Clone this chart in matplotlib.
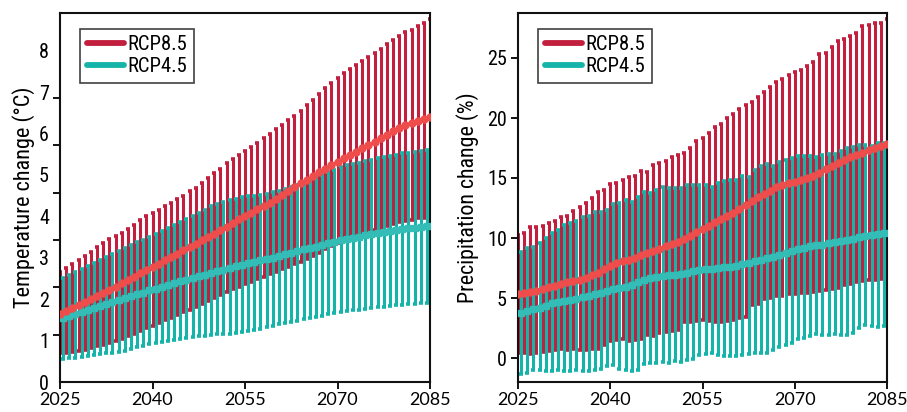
import numpy as np
import matplotlib
matplotlib.use("Agg")
import matplotlib.pyplot as plt
from matplotlib import font_manager as fm
from matplotlib.lines import Line2D

# ---------------- data ----------------
years = list(range(2025, 2086))
xticks = [2025, 2040, 2055, 2070, 2085]
series_names = ["RCP8.5", "RCP4.5"]

temp85_high = [2.66, 2.75, 2.85, 2.95, 3.05, 3.15, 3.25, 3.35, 3.45, 3.52,
               3.60, 3.70, 3.80, 3.90, 4.00, 4.08, 4.15, 4.25, 4.33, 4.42,
               4.50, 4.60, 4.68, 4.80, 4.92, 5.05, 5.15, 5.28, 5.38, 5.48,
               5.58, 5.68, 5.78, 5.88, 5.98, 6.10, 6.20, 6.32, 6.42, 6.55,
               6.68, 6.82, 6.95, 7.10, 7.22, 7.35, 7.45, 7.55, 7.65, 7.75,
               7.85, 7.95, 8.05, 8.15, 8.25, 8.35, 8.45, 8.50, 8.60, 8.68, 8.76]
temp85_mean = [1.65, 1.72, 1.79, 1.86, 1.93, 2.00, 2.08, 2.16, 2.23, 2.30,
               2.38, 2.46, 2.54, 2.62, 2.70, 2.78, 2.86, 2.94, 3.02, 3.10,
               3.18, 3.26, 3.34, 3.42, 3.50, 3.58, 3.66, 3.75, 3.84, 3.93,
               4.01, 4.09, 4.17, 4.25, 4.33, 4.42, 4.52, 4.62, 4.72, 4.80,
               4.88, 4.97, 5.06, 5.15, 5.24, 5.32, 5.40, 5.48, 5.56, 5.64,
               5.72, 5.80, 5.88, 5.96, 6.05, 6.13, 6.20, 6.26, 6.31, 6.35, 6.39]
temp85_low = [0.69, 0.70, 0.72, 0.75, 0.78, 0.82, 0.86, 0.90, 0.95, 1.00,
              1.05, 1.11, 1.17, 1.23, 1.30, 1.36, 1.42, 1.49, 1.55, 1.62,
              1.68, 1.75, 1.82, 1.89, 1.96, 2.03, 2.10, 2.17, 2.24, 2.30,
              2.36, 2.42, 2.48, 2.54, 2.60, 2.66, 2.72, 2.78, 2.84, 2.90,
              2.96, 3.04, 3.12, 3.20, 3.28, 3.35, 3.40, 3.45, 3.50, 3.56,
              3.61, 3.66, 3.71, 3.76, 3.81, 3.86, 3.89, 3.92, 3.95, 3.97, 3.99]
temp45_high = [2.50, 2.58, 2.66, 2.74, 2.81, 2.88, 2.95, 3.02, 3.09, 3.16,
               3.23, 3.30, 3.37, 3.44, 3.51, 3.58, 3.65, 3.72, 3.79, 3.86,
               3.93, 4.00, 4.08, 4.16, 4.24, 4.30, 4.35, 4.39, 4.43, 4.46,
               4.48, 4.50, 4.52, 4.55, 4.58, 4.62, 4.66, 4.70, 4.75, 4.80,
               4.85, 4.92, 4.99, 5.06, 5.13, 5.19, 5.23, 5.27, 5.30, 5.34,
               5.37, 5.40, 5.43, 5.46, 5.49, 5.52, 5.54, 5.56, 5.58, 5.59, 5.60]
temp45_mean = [1.54, 1.59, 1.64, 1.69, 1.74, 1.79, 1.84, 1.89, 1.93, 1.98,
               2.02, 2.07, 2.12, 2.16, 2.21, 2.25, 2.30, 2.34, 2.39, 2.43,
               2.47, 2.51, 2.55, 2.59, 2.63, 2.67, 2.71, 2.75, 2.79, 2.83,
               2.87, 2.90, 2.94, 2.97, 3.00, 3.04, 3.08, 3.12, 3.16, 3.20,
               3.23, 3.27, 3.31, 3.35, 3.39, 3.42, 3.45, 3.48, 3.51, 3.54,
               3.57, 3.60, 3.62, 3.65, 3.67, 3.69, 3.71, 3.73, 3.74, 3.76, 3.77]
temp45_low = [0.55, 0.57, 0.59, 0.61, 0.63, 0.65, 0.67, 0.69, 0.71, 0.73,
              0.76, 0.80, 0.84, 0.88, 0.92, 0.95, 0.97, 1.00, 1.02, 1.04,
              1.06, 1.08, 1.10, 1.12, 1.14, 1.15, 1.16, 1.17, 1.18, 1.20,
              1.22, 1.25, 1.29, 1.33, 1.36, 1.39, 1.42, 1.45, 1.48, 1.51,
              1.54, 1.57, 1.60, 1.63, 1.66, 1.69, 1.71, 1.73, 1.75, 1.77,
              1.79, 1.81, 1.82, 1.84, 1.85, 1.87, 1.88, 1.89, 1.90, 1.90, 1.90]

prec85_high = [10.25, 10.44, 10.89, 10.94, 11.03, 11.22, 11.44, 11.78, 11.83, 12.28,
               12.61, 12.94, 13.36, 13.86, 14.00, 14.50, 14.61, 14.83, 15.11, 15.17,
               15.58, 15.53, 16.08, 16.28, 16.42, 16.78, 16.92, 17.06, 17.53, 18.08,
               18.31, 18.72, 19.28, 19.50, 19.97, 20.33, 20.72, 21.08, 21.36, 21.78,
               22.19, 22.61, 23.03, 23.25, 23.58, 23.81, 24.00, 24.33, 24.64, 25.31,
               25.44, 25.94, 26.44, 26.56, 26.83, 27.11, 27.67, 27.75, 27.89, 27.94, 28.28]
prec85_mean = [5.30, 5.40, 5.50, 5.60, 5.75, 5.90, 6.00, 6.15, 6.30, 6.40,
               6.50, 6.70, 6.90, 7.10, 7.40, 7.70, 7.95, 8.10, 8.20, 8.35,
               8.55, 8.75, 8.95, 9.10, 9.30, 9.50, 9.70, 9.95, 10.20, 10.50,
               10.75, 11.00, 11.30, 11.55, 11.85, 12.10, 12.40, 12.75, 13.05, 13.40,
               13.70, 13.95, 14.25, 14.45, 14.60, 14.70, 14.80, 15.00, 15.20, 15.45,
               15.75, 16.00, 16.25, 16.50, 16.75, 16.95, 17.10, 17.30, 17.50, 17.65, 17.85]
prec85_low = [0.39, 0.44, 0.33, 0.44, 0.53, 0.61, 0.67, 0.72, 0.67, 0.72,
              0.67, 0.67, 0.72, 0.72, 1.08, 1.44, 1.50, 1.56, 1.44, 1.50,
              1.56, 1.92, 1.83, 2.11, 2.19, 2.28, 2.33, 3.03, 3.03, 3.11,
              3.17, 3.10, 3.00, 3.00, 3.10, 3.20, 3.30, 3.40, 4.40, 4.50,
              4.90, 5.00, 5.20, 5.20, 5.30, 5.35, 5.40, 5.40, 5.50, 5.60,
              5.70, 5.75, 5.80, 6.10, 6.20, 6.30, 6.40, 6.50, 6.50, 6.60, 7.20]
prec45_high = [8.86, 9.14, 9.22, 9.61, 9.97, 10.39, 10.67, 11.08, 11.22, 11.44,
               11.78, 11.83, 12.19, 12.14, 12.33, 12.83, 12.89, 13.17, 13.03, 13.44,
               13.86, 13.78, 14.00, 14.28, 14.14, 14.14, 14.19, 14.42, 14.42, 14.42,
               14.42, 14.28, 14.61, 14.78, 14.83, 14.83, 15.19, 15.11, 15.67, 16.00,
               16.14, 16.03, 16.36, 16.50, 16.64, 16.86, 16.86, 16.83, 16.78, 16.92,
               17.00, 17.00, 17.28, 17.53, 17.61, 17.75, 17.75, 17.67, 17.94, 17.89, 17.90]
prec45_mean = [3.75, 3.90, 4.05, 4.20, 4.35, 4.55, 4.65, 4.75, 4.85, 4.95,
               5.05, 5.15, 5.30, 5.45, 5.60, 5.75, 5.85, 5.95, 6.10, 6.30,
               6.50, 6.65, 6.75, 6.85, 6.90, 6.95, 7.00, 7.10, 7.25, 7.35,
               7.40, 7.45, 7.50, 7.55, 7.60, 7.70, 7.80, 7.90, 8.05, 8.20,
               8.30, 8.45, 8.60, 8.75, 8.90, 9.10, 9.20, 9.30, 9.40, 9.45,
               9.55, 9.65, 9.75, 9.85, 9.95, 10.05, 10.15, 10.25, 10.35, 10.40, 10.45]
prec45_low = [-1.30, -1.25, -1.00, -1.00, -1.05, -1.10, -1.00, -1.05, -1.05, -1.00,
              -1.10, -1.05, -1.00, -0.95, -0.70, -0.60, -0.90, -1.00, -1.05, -1.00,
              -0.50, -0.45, -0.40, -0.35, -0.40, -0.25, -0.31, -0.17, -0.11, 0.25,
              0.33, 0.39, 0.25, 0.17, 0.19, 0.19, 0.25, 0.33, 0.39, 0.39,
              0.44, 0.67, 0.94, 1.08, 1.28, 1.56, 1.64, 1.83, 2.00, 1.92,
              1.92, 2.00, 1.92, 1.92, 2.11, 2.47, 2.75, 2.67, 2.61, 2.67, 2.70]

# ---------------- style ----------------
C85_BAR = "#c21f3f"
C85_CAP = "#b01a38"
C85_MEAN = "#ef4d4b"
C45_BAR = "#15b4a8"
C45_CAP = "#11a89c"
C45_MEAN = "#33bdb6"

# pick a condensed sans if one is installed, otherwise Roboto
ttf = fm.fontManager.ttflist
narrow_fp = None
pref = ["Liberation Sans Narrow", "Roboto Condensed", "Open Sans Condensed",
        "Noto Sans", "Open Sans", "Roboto", "Lato", "Inter"]
cond = [f for f in ttf if (f.stretch in ("condensed", "semi-condensed", "extra-condensed")
                           or "Narrow" in f.name or "Condensed" in f.name)
        and f.weight in (400, "normal", "regular") and f.style == "normal"]
for p in pref:
    hit = [f for f in cond if f.name == p]
    if hit:
        narrow_fp = fm.FontProperties(fname=hit[0].fname)
        break
if narrow_fp is None and cond:
    narrow_fp = fm.FontProperties(fname=cond[0].fname)
if narrow_fp is None:
    narrow_fp = fm.FontProperties(family="Roboto")

names = {f.name for f in ttf}
XFONT = "Lato" if "Lato" in names else "DejaVu Sans"

fig = plt.figure(figsize=(9.07, 4.12), dpi=100)
W, H = 907.0, 412.0
renderer = fig.canvas.get_renderer()


def fit_fp(text, target_w):
    """Condensed font properties whose rendered width of `text` is about target_w px."""
    fp = narrow_fp.copy()
    fp.set_size(15)
    t = fig.text(0, 0, text, fontproperties=fp)
    w = t.get_window_extent(renderer).width
    t.remove()
    fp.set_size(15 * target_w / w)
    return fp


fp_leg = fit_fp("RCP8.5", 60)
fp_tick = fit_fp("25", 20)
fp_ylab1 = fit_fp("Temperature change (°C)", 222)
fp_ylab2 = fit_fp("Precipitation change (%)", 212)

ax1 = fig.add_axes([60 / W, (H - 382) / H, 370 / W, 369 / H])
ax2 = fig.add_axes([518 / W, (H - 382) / H, 369 / W, 369 / H])

x85 = np.array(years, dtype=float)
x45 = x85 + 0.5


def draw(ax, h85, m85, l85, h45, m45, l45):
    h85, m85, l85 = map(np.array, (h85, m85, l85))
    h45, m45, l45 = map(np.array, (h45, m45, l45))
    e1 = ax.errorbar(x85, m85, yerr=[m85 - l85, h85 - m85], fmt="none",
                     ecolor=C85_BAR, elinewidth=2.2, capsize=1.6, capthick=2.6, zorder=2)
    for c in e1[1]:
        c.set_color(C85_CAP)
    e2 = ax.errorbar(x45, m45, yerr=[m45 - l45, h45 - m45], fmt="none",
                     ecolor=C45_BAR, elinewidth=2.2, capsize=1.6, capthick=2.6, zorder=3)
    for c in e2[1]:
        c.set_color(C45_CAP)
    ax.plot(x45, m45, color=C45_MEAN, lw=3.2, marker="s", ms=4.6, mec=C45_MEAN,
            mfc=C45_MEAN, zorder=4)
    ax.plot(x85, m85, color=C85_MEAN, lw=2.0, marker="o", ms=5.0, mec=C85_MEAN,
            mfc=C85_MEAN, zorder=5)


draw(ax1, temp85_high, temp85_mean, temp85_low, temp45_high, temp45_mean, temp45_low)
draw(ax2, prec85_high, prec85_mean, prec85_low, prec45_high, prec45_mean, prec45_low)

for ax in (ax1, ax2):
    ax.set_xlim(2025, 2085)
    ax.set_xticks(xticks)
    ax.set_xticklabels([str(t) for t in xticks], fontfamily=XFONT, fontsize=13)
    ax.tick_params(axis="x", direction="out", length=5, width=1.3, pad=2, color="black")
    for s in ax.spines.values():
        s.set_linewidth(1.5)
        s.set_color("#111111")
    handles = [Line2D([0], [0], color=C85_BAR, lw=4.2, solid_capstyle="round"),
               Line2D([0], [0], color=C45_BAR, lw=4.2, solid_capstyle="round")]
    leg = ax.legend(handles, series_names, loc="upper left",
                    bbox_to_anchor=(0.054, 0.957), borderaxespad=0,
                    prop=fp_leg, frameon=True, fancybox=False, edgecolor="#111111",
                    handlelength=1.8, handletextpad=0.2, labelspacing=0.14,
                    borderpad=0.32)
    leg.get_frame().set_linewidth(1.2)

# left axis: labels at integers, tick marks evenly spaced (as in reference)
ax1.set_ylim(0, 8.91)
ax1.set_yticks(range(0, 9))
ax1.set_yticklabels([str(v) for v in range(0, 9)], fontproperties=fp_tick)
ax1.tick_params(axis="y", which="major", length=0, pad=8)
ax1.set_yticks(np.linspace(0, 8, 8), minor=True)
ax1.tick_params(axis="y", which="minor", direction="out", length=5, width=1.3)
ax1.set_ylabel("Temperature change (°C)", fontproperties=fp_ylab1, labelpad=3)

ax2.set_ylim(-2.0, 28.75)
ax2.set_yticks([0, 5, 10, 15, 20, 25])
ax2.set_yticklabels(["0", "5", "10", "15", "20", "25"], fontproperties=fp_tick)
ax2.tick_params(axis="y", which="major", direction="out", length=5, width=1.3, pad=3)
ax2.set_ylabel("Precipitation change (%)", fontproperties=fp_ylab2, labelpad=6)

fig.savefig("out.png", dpi=100)
